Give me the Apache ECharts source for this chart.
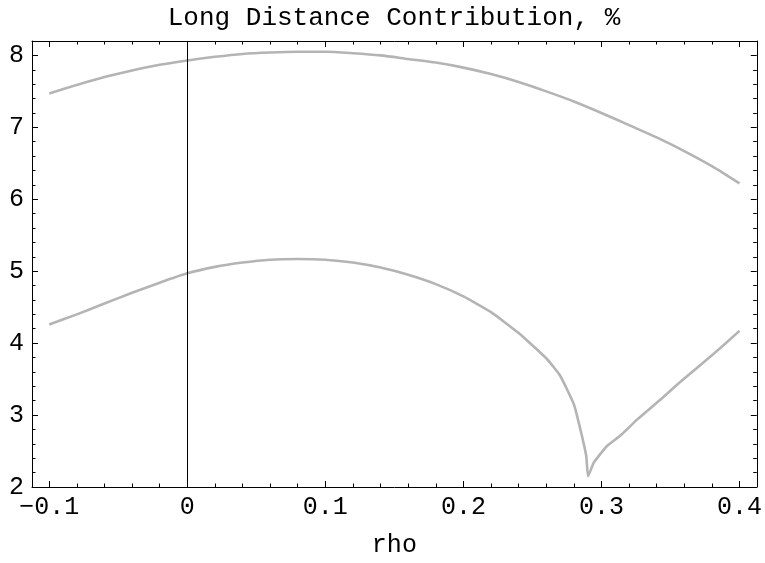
<!DOCTYPE html>
<html>
<head>
<meta charset="utf-8">
<script src="https://cdn.jsdelivr.net/npm/echarts@6/dist/echarts.min.js"></script>
<style>
  html, body { margin: 0; padding: 0; background: #fff; }
  #main { width: 765px; height: 563px; }
</style>
</head>
<body>
<div id="main"></div>
<script>
// upper curve
var upperRho = [-0.1, -0.08, -0.06, -0.04, -0.02, 0, 0.02, 0.04, 0.06, 0.08, 0.1, 0.12, 0.14,
    0.16, 0.18, 0.2, 0.22, 0.24, 0.26, 0.28, 0.3, 0.32, 0.34, 0.36, 0.38, 0.4];
var upperVal = [7.47, 7.59, 7.70, 7.79, 7.87, 7.93, 7.98, 8.02, 8.04, 8.05, 8.05, 8.03, 8.00,
    7.95, 7.90, 7.83, 7.74, 7.63, 7.50, 7.36, 7.20, 7.03, 6.86, 6.67, 6.46, 6.22];

// lower curve (cusp near 0.29)
var lowerRho = [-0.1, -0.08, -0.06, -0.04, -0.02, 0, 0.02, 0.04, 0.06, 0.08, 0.1, 0.12, 0.14,
    0.16, 0.18, 0.2, 0.22, 0.24, 0.26, 0.27, 0.28, 0.285, 0.289, 0.2903,
    0.2945, 0.304, 0.314, 0.326, 0.343, 0.357, 0.38, 0.4];
var lowerVal = [4.26, 4.40, 4.55, 4.70, 4.84, 4.97, 5.06, 5.12, 5.16, 5.17, 5.16, 5.12, 5.05,
    4.95, 4.82, 4.65, 4.43, 4.14, 3.79, 3.55, 3.15, 2.78, 2.43, 2.15,
    2.34, 2.57, 2.72, 2.94, 3.22, 3.46, 3.83, 4.17];

var titleText = 'Long Distance Contribution, %';
var xName = 'rho';

var font = "'Liberation Mono', 'DejaVu Sans Mono', monospace";
var curveColor = '#b4b4b4';

function pairs(xs, ys) {
    var out = [];
    for (var i = 0, len = xs.length; i < len; i++) {
        out.push([xs[i], ys[i]]);
    }
    return out;
}

//frame axis: line plus inward ticks
function frameTick() {
    return {
        axisLine: { show: true, onZero: false, lineStyle: { color: '#000', width: 1 } },
        axisTick: { show: true, inside: true, length: 6, lineStyle: { color: '#000', width: 1 } },
        minorTick: { show: true, splitNumber: 5, length: 3.5, lineStyle: { color: '#000', width: 1 } },
        splitLine: { show: false },
        minorSplitLine: { show: false }
    };
}

var xBase = { type: 'value', min: -0.1125, max: 0.4125 };
var yBase = { type: 'value', min: 2, max: 8.2, interval: 1 };

var chart = echarts.init(document.getElementById('main'));

var option = {
    animation: false,
    backgroundColor: '#fff',
    title: {
        text: titleText,
        left: 394,
        top: 5,
        padding: 0,
        textAlign: 'center',
        textStyle: { fontFamily: font, fontSize: 26, fontWeight: 'normal', color: '#000' }
    },
    grid: { left: 32, right: 8, top: 41, bottom: 75 },
    xAxis: [
        echarts.util.merge(echarts.util.merge({}, xBase), echarts.util.merge(frameTick(), {
            position: 'bottom',
            name: xName,
            nameLocation: 'middle',
            nameGap: 46,
            nameTextStyle: { fontFamily: font, fontSize: 25, color: '#000' },
            axisLabel: {
                show: true, margin: 8, showMinLabel: false, showMaxLabel: false,
                fontFamily: font, fontSize: 25, color: '#000',
                formatter: function (v) { return String(v).replace('-', '\u2212'); }
            }
        })),
        echarts.util.merge(echarts.util.merge({}, xBase), echarts.util.merge(frameTick(), {
            position: 'top',
            axisLabel: { show: false }
        }))
    ],
    yAxis: [
        echarts.util.merge(echarts.util.merge({}, yBase), echarts.util.merge(frameTick(), {
            position: 'left',
            axisLabel: {
                show: true, margin: 8, showMaxLabel: false,
                fontFamily: font, fontSize: 25, color: '#000'
            }
        })),
        echarts.util.merge(echarts.util.merge({}, yBase), echarts.util.merge(frameTick(), {
            position: 'right',
            axisLabel: { show: false }
        }))
    ],
    series: [
        {
            type: 'line',
            data: pairs(upperRho, upperVal),
            showSymbol: false,
            smooth: 0.25,
            lineStyle: { color: curveColor, width: 2.6 },
            //vertical line at rho = 0
            markLine: {
                silent: true,
                symbol: ['none', 'none'],
                label: { show: false },
                lineStyle: { color: '#000', width: 1, type: 'solid' },
                data: [{ xAxis: 0 }]
            },
            z: 3
        },
        {
            type: 'line',
            data: pairs(lowerRho, lowerVal),
            showSymbol: false,
            smooth: 0.15,
            lineStyle: { color: curveColor, width: 2.6 },
            z: 3
        }
    ]
};

chart.setOption(option);
</script>
</body>
</html>
